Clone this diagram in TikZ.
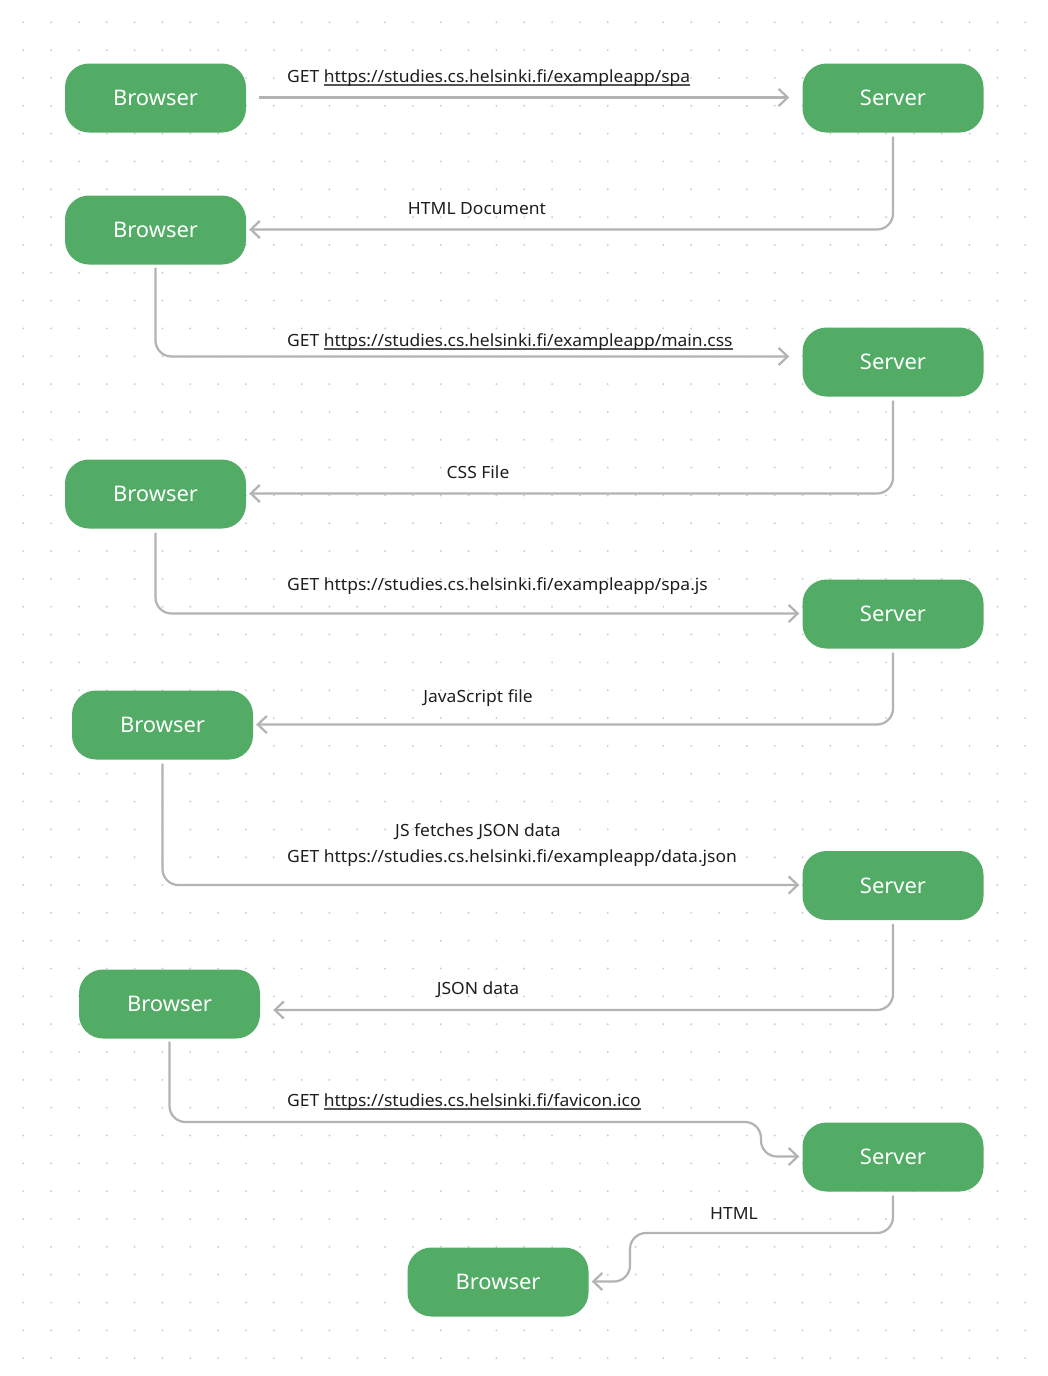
\documentclass[tikz,border=0pt]{standalone}
\usepackage{fontspec}
\setmainfont{Noto Sans}
\newfontfamily\lblfont[FakeStretch=1.04]{Noto Sans}
\newfontfamily\boxfont[FakeStretch=1.02]{Noto Sans}
\usetikzlibrary{arrows.meta,calc}
\definecolor{nodegreen}{HTML}{52AC66}
\definecolor{linegray}{HTML}{B3B3B3}
\definecolor{dotgray}{HTML}{CFCFCF}
\definecolor{textdark}{HTML}{1E1E1E}
\definecolor{ulgray}{HTML}{555555}
\newcommand\ulink[1]{\setbox0\hbox{#1}\rlap{\textcolor{ulgray}{\rule[-3.5pt]{\wd0}{1.2pt}}}\box0}
\begin{document}
\begin{tikzpicture}[x=1pt,y=-1pt,
  box/.style={draw=none, fill=nodegreen, rounded corners=24pt, minimum width=181pt, minimum height=69pt, text=white, font=\boxfont\fontsize{21.5}{25}\selectfont, inner sep=0pt},
  conn/.style={draw=linegray, line width=2.2pt, rounded corners=16pt, -{Straight Barb[length=9pt,width=17pt,line width=2.2pt]}},
  lbl/.style={text=textdark, font=\lblfont\fontsize{16.8}{20}\selectfont, inner sep=0pt}
]
\useasboundingbox[fill=white] (0,0) rectangle (1048,1376);
\foreach \i in {0,...,36} \foreach \j in {0,...,48} \fill[dotgray] (23.3+27.83*\i, 22.3+27.83*\j) circle (1.1pt);

\node[box] (b1) at (155.5,98) {Browser};
\node[box] (s1) at (893,98) {Server};
\node[box] (b2) at (155.5,230) {Browser};
\node[box] (s2) at (893,362) {Server};
\node[box] (b3) at (155.5,494) {Browser};
\node[box] (s3) at (893,614) {Server};
\node[box] (b4) at (162.5,725) {Browser};
\node[box] (s4) at (893,885.5) {Server};
\node[box] (b5) at (169.5,1004) {Browser};
\node[box] (s5) at (893,1157) {Server};
\node[box] (b6) at (498,1282) {Browser};

\draw[conn] ($(b1.east)+(13,-0.5)$) -- ($(s1.west)+(-13,-0.5)$);
\draw[conn] ($(s1.south)+(0,4)$) |- ($(b2.east)+(3,-0.5)$);
\draw[conn] ($(b2.south)+(0,3)$) |- ($(s2.west)+(-13,-5.5)$);
\draw[conn] ($(s2.south)+(0,4)$) |- ($(b3.east)+(3,-0.5)$);
\draw[conn] ($(b3.south)+(0,4)$) |- ($(s3.west)+(-3,-0.5)$);
\draw[conn] ($(s3.south)+(0,4)$) |- ($(b4.east)+(3,-0.5)$);
\draw[conn] ($(b4.south)+(0,4)$) |- ($(s4.west)+(-3,-0.5)$);
\draw[conn] ($(s4.south)+(0,4)$) |- ($(b5.east)+(13,6)$);
\coordinate (k1) at (761,1122);
\coordinate (k2) at (630,1233);
\draw[conn] ($(b5.south)+(0,3)$) |- (k1) |- ($(s5.west)+(-3,-0.5)$);
\draw[conn] ($(s5.south)+(0,4)$) |- (k2) |- ($(b6.east)+(3,-0.5)$);

\node[lbl, anchor=base west] (l1) at (287,82) {GET \ulink{https://studies.cs.helsinki.fi/exampleapp/spa}};
\node[lbl, anchor=base] (l2) at (477,214) {HTML Document};
\node[lbl, anchor=base west] (l3) at (287,346) {GET \ulink{https://studies.cs.helsinki.fi/exampleapp/main.css}};
\node[lbl, anchor=base] (l4) at (478,478) {CSS File};
\node[lbl, anchor=base west] (l5) at (287,590) {GET https://studies.cs.helsinki.fi/exampleapp/spa.js};
\node[lbl, anchor=base] (l6) at (478,702) {JavaScript file};
\node[lbl, anchor=base] (l7) at (478,836) {JS fetches JSON data};
\node[lbl, anchor=base west] (l7b) at (287,862) {GET https://studies.cs.helsinki.fi/exampleapp/data.json};
\node[lbl, anchor=base] (l8) at (478,994) {JSON data};
\node[lbl, anchor=base west] (l9) at (287,1106) {GET \ulink{https://studies.cs.helsinki.fi/favicon.ico}};
\node[lbl, anchor=base] (l10) at (734,1219) {HTML};
\end{tikzpicture}
\end{document}
